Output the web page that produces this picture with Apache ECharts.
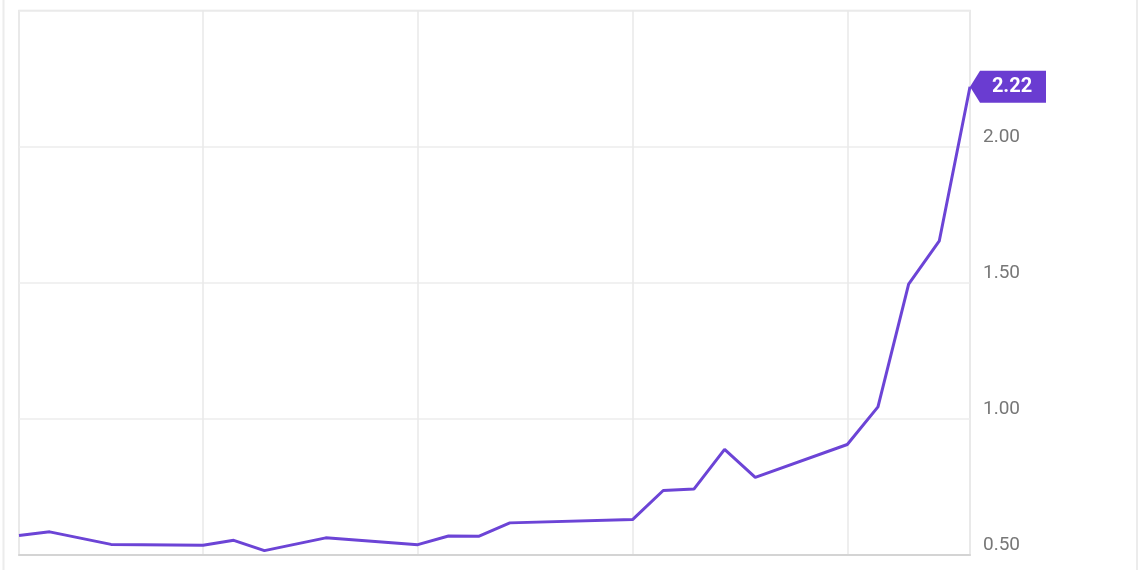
<!DOCTYPE html>
<html>
<head>
<meta charset="utf-8">
<script src="https://cdn.jsdelivr.net/npm/echarts@6/dist/echarts.min.js"></script>
<style>
  html, body { margin: 0; padding: 0; background: #fff; }
  #chart { width: 1140px; height: 570px; }
</style>
</head>
<body>
<div id="chart"></div>
<script>
// Day offsets (trading days; missing days are gaps)
const days = ['0','1','2','3','4','5','6','7','8','9','10','11','12','13','14','15','16','17','18','19','20','21','22','23','24','25','26','27','28','29','30','31'];
const values = [0.572, 0.585, null, 0.539, null, null, 0.536, 0.554, 0.516, null, 0.563, null, null, 0.538, 0.570, 0.569, 0.618, null, null, null, 0.630, 0.737, 0.742, 0.888, 0.785, null, null, 0.906, 1.044, 1.495, 1.654, 2.22];
const weekGridIdx = [6, 13, 20, 27];
const yTicks = { min: 0.5, max: 2.5, interval: 0.5 };
const lastValue = 2.22;

const chart = echarts.init(document.getElementById('chart'));
chart.setOption({
  animation: false,
  backgroundColor: '#fff',
  graphic: [
    { type: 'line', shape: { x1: 3.5, y1: 0, x2: 3.5, y2: 570 }, style: { stroke: '#ececec', lineWidth: 2 } },
    { type: 'line', shape: { x1: 1137, y1: 0, x2: 1137, y2: 570 }, style: { stroke: '#ececec', lineWidth: 2 } }
  ],
  grid: {
    left: 19, right: 170, top: 10.5, bottom: 15,
    show: true, borderColor: '#e2e2e2', borderWidth: 1.5
  },
  xAxis: {
    type: 'category',
    data: days,
    boundaryGap: false,
    axisLine: { show: true, lineStyle: { color: '#d4d4d4', width: 2 } },
    axisTick: { show: false },
    axisLabel: { show: false },
    splitLine: {
      show: true,
      interval: function (index) { return weekGridIdx.indexOf(index) >= 0; },
      lineStyle: { color: '#e8e8e8', width: 1.5 }
    }
  },
  yAxis: {
    type: 'value',
    position: 'right',
    min: yTicks.min, max: yTicks.max, interval: yTicks.interval,
    axisLine: { show: false },
    axisTick: { show: false },
    splitLine: { show: true, lineStyle: { color: '#ececec', width: 1.5 } },
    axisLabel: {
      showMaxLabel: false,
      margin: 13,
      color: '#777',
      fontFamily: 'Roboto',
      fontSize: 19,
      verticalAlign: 'bottom',
      lineHeight: 19,
      formatter: function (v) { return v.toFixed(2); }
    }
  },
  series: [{
    type: 'line',
    data: values,
    connectNulls: true,
    showSymbol: false,
    symbol: 'none',
    lineStyle: { color: '#6c44d6', width: 3 },
    markPoint: {
      data: [{ coord: ['31', lastValue], value: lastValue }],
      symbol: 'path://M0,16L10,0L76,0L76,32L10,32Z',
      symbolSize: [76, 32],
      symbolOffset: [38, 0],
      itemStyle: { color: '#6a3cd1' },
      label: {
        show: true,
        position: 'inside',
        offset: [4, 0],
        color: '#fff',
        fontFamily: 'Roboto',
        fontWeight: 'bold',
        fontSize: 20,
        formatter: function (p) { return p.value.toFixed(2); }
      }
    }
  }]
});
</script>
</body>
</html>
